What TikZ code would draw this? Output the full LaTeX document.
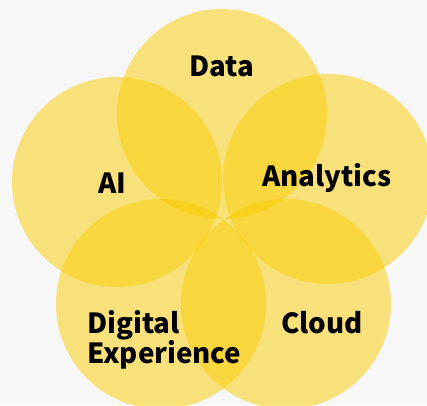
\documentclass[tikz,border=0pt]{standalone}
\usepackage{fontspec}
\setmainfont{Noto Sans CJK SC}
\definecolor{bgc}{RGB}{247,247,247}
\definecolor{petal}{RGB}{249,205,0}
\begin{document}
\begin{tikzpicture}[x=1pt,y=-1pt,
  petalc/.style={fill=petal,fill opacity=0.5,draw=none},
  lbl/.style={font=\fontsize{27.7}{30.5}\selectfont\bfseries,text=black,inner sep=0pt}]
\fill[bgc] (0,0) rectangle (427,405);
\useasboundingbox (0,0) rectangle (427,405);
\begin{scope}
\clip (0,0) rectangle (427,405);
\fill[petalc] (222,114) circle (105);
\fill[petalc] (117,182) circle (105);
\fill[petalc] (328,179) circle (105);
\fill[petalc] (161,304) circle (105);
\fill[petalc] (286,304) circle (105);
\end{scope}
\node[lbl] (data) at (222,66) {Data};
\node[lbl] (ai) at (112,183) {AI};
\node[lbl,anchor=west] (analytics) at (262,178) {Analytics};
\node[lbl] (cloud) at (322,323) {Cloud};
\node[lbl,anchor=north west,align=left] (digital) at (87,310) {Digital\\Experience};
\end{tikzpicture}
\end{document}
